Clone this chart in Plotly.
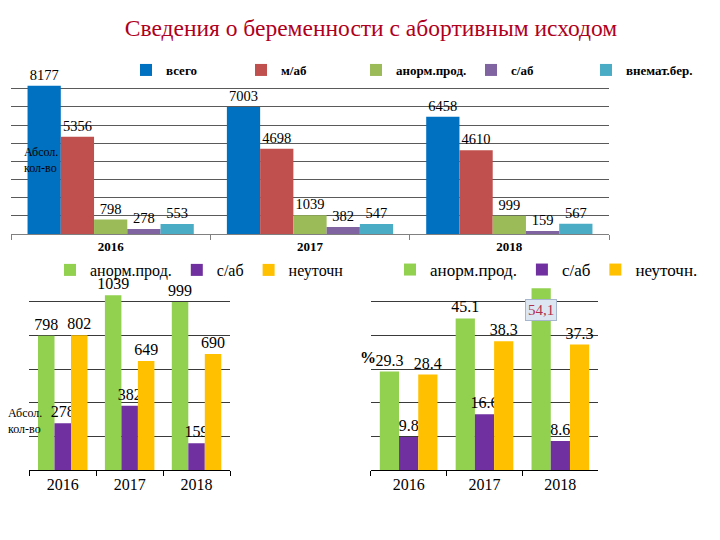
import plotly.graph_objects as go

# ---------------- data ----------------
years = ["2016", "2017", "2018"]

top_series = ["всего", "м/аб", "анорм.прод.", "с/аб", "внемат.бер."]
top_vals = {
    "всего": [8177, 7003, 6458],
    "м/аб": [5356, 4698, 4610],
    "анорм.прод.": [798, 1039, 999],
    "с/аб": [278, 382, 159],
    "внемат.бер.": [553, 547, 567],
}
top_colors = ["#0070C0", "#C0504D", "#9BBB59", "#8064A2", "#4BACC6"]

abs_series = ["анорм.прод.", "с/аб", "неуточн"]
abs_anorm = [798, 1039, 999]
abs_sab = [278, 382, 159]
abs_neut = [802, 649, 690]

pct_series = ["анорм.прод.", "с/аб", "неуточн."]
pct_anorm = [29.3, 45.1, 54.1]
pct_sab = [9.8, 16.6, 8.6]
pct_neut = [28.4, 38.3, 37.3]

bot_colors = ["#92D050", "#7030A0", "#FFC000"]

SERIF = "Times New Roman, Liberation Serif, serif"

fig = go.Figure()


def add_group(names, values, colors, xa, ya, gap, legend, textsize, texts=None):
    n = len(names)
    w = (1 - gap) / n
    for i, (nm, v, c) in enumerate(zip(names, values, colors)):
        t = texts[i] if texts else [str(x) for x in v]
        fig.add_trace(go.Bar(
            x=years, y=v, name=nm, marker=dict(color=c, line=dict(width=0)),
            width=w, offset=-(1 - gap) / 2 + i * w,
            text=t, textposition="outside", cliponaxis=False,
            constraintext="none", textangle=0,
            textfont=dict(family=SERIF, size=textsize, color="#000000"),
            xaxis=xa, yaxis=ya, legend=legend, showlegend=True,
        ))


add_group(top_series, [top_vals[s] for s in top_series], top_colors,
          "x", "y", 0.166, "legend", 14.5)
add_group(abs_series, [abs_anorm, abs_sab, abs_neut], bot_colors,
          "x2", "y2", 0.26, "legend2", 16)
pct_text = [[str(v) for v in pct_anorm[:2]] + [""],
            [str(v) for v in pct_sab],
            [str(v) for v in pct_neut]]
add_group(pct_series, [pct_anorm, pct_sab, pct_neut], bot_colors,
          "x3", "y3", 0.24, "legend3", 16, texts=pct_text)

grid_top = "#5a5a5a"
grid_bot = "#3a3a3a"

xcommon = dict(type="category", showgrid=False, zeroline=False, showline=True,
               ticks="outside", tickson="boundaries", ticklen=5,
               range=[-0.5, 2.5], autorange=False)
fig.update_layout(
    width=720, height=540,
    margin=dict(l=0, r=0, t=0, b=0),
    paper_bgcolor="white", plot_bgcolor="white",
    font=dict(family=SERIF, color="#000"),
    barmode="group",
    title=dict(text="Сведения о беременности с абортивным исходом",
               x=371 / 720, xanchor="center", y=1 - 28 / 540, yanchor="middle",
               font=dict(family=SERIF, size=23.5, color="#B00020")),
    xaxis=dict(domain=[11 / 720, 609 / 720], anchor="y", linecolor="#808080",
               tickcolor="#808080",
               tickfont=dict(family=SERIF, size=13, color="#000", weight="bold"),
               **xcommon),
    yaxis=dict(domain=[1 - 234 / 540, 1 - 70.7 / 540], anchor="x", range=[0, 9000],
               dtick=1000, showticklabels=False, showgrid=True, gridcolor=grid_top,
               zeroline=False, gridwidth=1),
    xaxis2=dict(domain=[29.3 / 720, 230 / 720], anchor="y2", linecolor="#000",
                tickcolor="#000", tickfont=dict(family=SERIF, size=16, color="#000"),
                **xcommon),
    yaxis2=dict(domain=[1 - 470 / 540, 1 - 268.3 / 540], anchor="x2", range=[0, 1200],
                dtick=200, showticklabels=False, showgrid=True, gridcolor=grid_bot,
                zeroline=False),
    xaxis3=dict(domain=[370.7 / 720, 598.3 / 720], anchor="y3", linecolor="#000",
                tickcolor="#000", tickfont=dict(family=SERIF, size=16, color="#000"),
                **xcommon),
    yaxis3=dict(domain=[1 - 470 / 540, 1 - 268.3 / 540], anchor="x3", range=[0, 60],
                dtick=10, showticklabels=False, showgrid=True, gridcolor=grid_bot,
                zeroline=False),
    legend=dict(orientation="h", x=126 / 720, xanchor="left", y=1 - 70 / 540,
                yanchor="middle", bgcolor="rgba(255,255,255,0)",
                font=dict(family=SERIF, size=13, color="#000", weight="bold"),
                entrywidth=70, itemwidth=30, tracegroupgap=0),
    legend2=dict(orientation="h", x=50 / 720, xanchor="left", y=1 - 270 / 540,
                 yanchor="middle", bgcolor="rgba(255,255,255,0)",
                 font=dict(family=SERIF, size=16, color="#000"), itemwidth=30),
    legend3=dict(orientation="h", x=390 / 720, xanchor="left", y=1 - 270 / 540,
                 yanchor="middle", bgcolor="rgba(255,255,255,0)",
                 font=dict(family=SERIF, size=17, color="#000"), itemwidth=30),
    showlegend=True,
)

# annotations
gap3 = 0.24
w3 = (1 - gap3) / 3
fig.add_annotation(x=2 - (1 - gap3) / 2 + w3 / 2, y=pct_anorm[2], xref="x3", yref="y3",
                   text="54,1", showarrow=False, xanchor="center", yanchor="top", yshift=-11,
                   font=dict(family=SERIF, size=15, color="#B0304A"),
                   bgcolor="#DCE6F2", bordercolor="#A6B6CC", borderwidth=1, borderpad=2)
fig.add_annotation(x=41 / 720, y=1 - 160 / 540, xref="paper", yref="paper",
                   xanchor="center", yanchor="middle",
                   text="Абсол.<br>кол-во", showarrow=False, align="left",
                   font=dict(family=SERIF, size=12, color="#000"))
fig.add_annotation(x=25 / 720, y=1 - 421 / 540, xref="paper", yref="paper",
                   xanchor="center", yanchor="middle",
                   text="Абсол.<br>кол-во", showarrow=False, align="left",
                   font=dict(family=SERIF, size=12, color="#000"))
fig.add_annotation(x=368 / 720, y=1 - 357 / 540, xref="paper", yref="paper",
                   xanchor="center", yanchor="middle",
                   text="%", showarrow=False,
                   font=dict(family=SERIF, size=16, color="#000", weight="bold"))

fig.write_html("out.html", config={"displayModeBar": False},
               post_script="document.body.style.margin='0';document.body.style.overflow='hidden';")
